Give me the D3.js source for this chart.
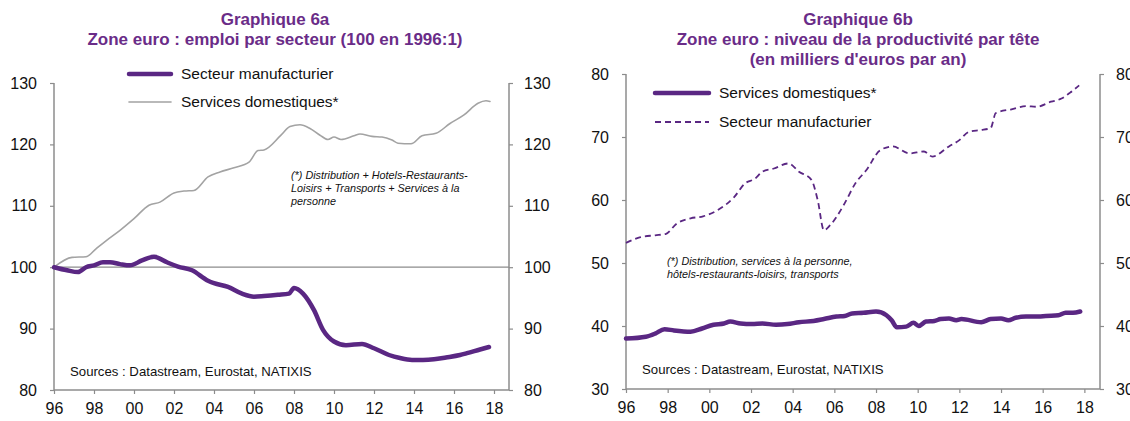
<!DOCTYPE html>
<html>
<head>
<meta charset="utf-8">
<script src="https://cdn.jsdelivr.net/npm/d3@7"></script>
<style>
  body { margin: 0; background: #fff; }
  svg { font-family: "Liberation Sans", Arial, sans-serif; }
</style>
</head>
<body>
<svg id="chart" width="1130" height="421"></svg>
<script>
// values (year as decimal, value)
const yearTicks = [1996, 1998, 2000, 2002, 2004, 2006, 2008, 2010, 2012, 2014, 2016, 2018];

// Graphique 6a : emploi, 100 en 1996:1
const empTicks = [80, 90, 100, 110, 120, 130];
const empManufacturier = [
  [1996.0, 100], [1996.65, 99.5], [1997.2, 99.2], [1997.6, 100], [1998.0, 100.3], [1998.45, 100.8],
  [1998.8, 100.8], [1999.3, 100.5], [1999.8, 100.3], [2000.4, 101.1], [2001.0, 101.7], [2001.65, 100.8],
  [2002.2, 100.1], [2002.9, 99.5], [2003.7, 97.8], [2004.0, 97.4], [2004.7, 96.8], [2005.4, 95.7],
  [2006.0, 95.2], [2006.5, 95.3], [2007.2, 95.5], [2007.75, 95.7], [2008.0, 96.6], [2008.45, 95.7],
  [2009.0, 93.0], [2009.45, 89.8], [2010.0, 87.9], [2010.6, 87.3], [2011.4, 87.5], [2012.0, 86.8],
  [2012.75, 85.7], [2013.3, 85.2], [2013.9, 84.9], [2014.45, 84.9], [2015.0, 85.0], [2015.6, 85.3],
  [2016.3, 85.7], [2016.65, 86.0], [2017.3, 86.6], [2017.75, 87.0]
];
const empServices = [
  [1996.0, 100], [1996.9, 101.6], [1997.6, 101.7], [1998.1, 103], [1998.6, 104.3], [1999.3, 106],
  [2000.0, 107.9], [2000.75, 110.1], [2001.3, 110.6], [2002.0, 112.1], [2002.5, 112.4], [2003.0, 112.5],
  [2003.7, 114.7], [2004.3, 115.5], [2005.0, 116.2], [2005.75, 117.1], [2006.2, 119], [2006.5, 119.1],
  [2007.35, 121.5], [2007.8, 122.9], [2008.3, 123.2], [2008.8, 122.6], [2009.3, 121.5], [2009.7, 120.8],
  [2010.0, 121.2], [2010.35, 120.8], [2011.0, 121.4], [2011.3, 121.7], [2011.9, 121.3], [2012.4, 121.2],
  [2012.9, 120.7], [2013.2, 120.2], [2013.85, 120.1], [2014.4, 121.4], [2015.1, 121.8], [2015.8, 123.4],
  [2016.5, 124.8], [2017.2, 126.7], [2017.6, 127.1], [2017.8, 127.0]
];

// Graphique 6b : productivité par tête, milliers d'euros
const prodTicks = [30, 40, 50, 60, 70, 80];
const prodServices = [
  [1996.0, 38.0], [1996.95, 38.3], [1997.4, 38.8], [1997.85, 39.5], [1998.3, 39.3], [1999.1, 39.1],
  [1999.65, 39.6], [2000.2, 40.2], [2000.7, 40.4], [2001.0, 40.7], [2001.5, 40.4], [2002.05, 40.3],
  [2002.55, 40.4], [2003.2, 40.2], [2003.75, 40.3], [2004.3, 40.6], [2005.0, 40.8], [2005.5, 41.1],
  [2006.1, 41.5], [2006.5, 41.6], [2006.85, 42.0], [2007.4, 42.1], [2008.0, 42.3], [2008.5, 41.7],
  [2008.75, 40.9], [2009.0, 39.8], [2009.45, 39.9], [2009.8, 40.5], [2010.05, 40.0], [2010.4, 40.7],
  [2010.8, 40.8], [2011.1, 41.1], [2011.5, 41.2], [2011.85, 40.9], [2012.1, 41.1], [2013.05, 40.6],
  [2013.5, 41.1], [2014.0, 41.2], [2014.35, 40.9], [2014.7, 41.3], [2015.2, 41.5], [2015.8, 41.5],
  [2016.15, 41.6], [2016.75, 41.7], [2017.1, 42.1], [2017.45, 42.1], [2017.8, 42.3]
];
const prodManufacturier = [
  [1996.0, 53.2], [1996.7, 54.1], [1997.4, 54.4], [1997.9, 54.6], [1998.45, 56.3], [1999.1, 57.1],
  [1999.7, 57.4], [2000.4, 58.4], [2001.2, 60.5], [2001.7, 62.6], [2002.2, 63.4], [2002.55, 64.5],
  [2003.1, 65.0], [2003.8, 65.8], [2004.3, 64.5], [2004.9, 63.2], [2005.2, 60.0], [2005.5, 55.2],
  [2005.8, 56.0], [2006.5, 59.5], [2007.0, 62.6], [2007.55, 64.8], [2008.2, 67.9], [2008.8, 68.5],
  [2009.6, 67.4], [2010.3, 67.7], [2010.7, 66.9], [2011.5, 68.5], [2012.0, 69.5], [2012.45, 70.8],
  [2013.0, 71.1], [2013.5, 71.4], [2013.75, 73.8], [2014.5, 74.4], [2015.2, 74.9], [2015.7, 74.8],
  [2016.4, 75.6], [2016.9, 76.1], [2017.3, 77.0], [2017.75, 78.2]
];

const PURPLE = '#5a2783';
const TITLE_PURPLE = '#6a2c88';
const GREY_LINE = '#a3a3a3';
const AXIS_GREY = '#8c8c8c';

const svg = d3.select('#chart');

function drawPanel(opt) {
  const g = svg.append('g');
  const x = d3.scaleLinear().domain([1996, 2018.75]).range([opt.left, opt.right]);
  const y = d3.scaleLinear().domain(opt.domain).range([opt.bottom, opt.top]);

  // titles
  opt.title.forEach((t, i) => {
    g.append('text')
      .attr('x', opt.titleX).attr('y', opt.titleY[i])
      .attr('text-anchor', 'middle')
      .attr('font-size', 17).attr('font-weight', 'bold')
      .attr('fill', TITLE_PURPLE)
      .text(t);
  });

  // reference line
  if (opt.refLine !== undefined) {
    g.append('line')
      .attr('x1', opt.left).attr('x2', opt.right)
      .attr('y1', y(opt.refLine)).attr('y2', y(opt.refLine))
      .attr('stroke', AXIS_GREY).attr('stroke-width', 1.2);
  }

  // axes
  const yLeft = g.append('g').attr('transform', 'translate(' + opt.left + ',0)')
    .call(d3.axisLeft(y).tickValues(opt.ticks).tickSize(4).tickPadding(opt.padL));
  const yRight = g.append('g').attr('transform', 'translate(' + opt.right + ',0)')
    .call(d3.axisRight(y).tickValues(opt.ticks).tickSize(4).tickPadding(opt.padR));
  const xAxis = g.append('g').attr('transform', 'translate(0,' + opt.bottom + ')')
    .call(d3.axisBottom(x).tickValues(yearTicks).tickSize(4).tickPadding(9)
      .tickFormat((d) => String(d).slice(2)));

  [yLeft, yRight, xAxis].forEach((a) => {
    a.select('.domain').attr('stroke', AXIS_GREY).attr('stroke-width', 1.5);
    a.selectAll('.tick line').attr('stroke', AXIS_GREY).attr('stroke-width', 1.2);
    a.selectAll('.tick text').attr('font-size', 16).attr('fill', '#111')
      .attr('font-family', '"Liberation Sans", Arial, sans-serif');
  });
  // plain domain lines, no end stubs
  yLeft.select('.domain').attr('d', 'M0,' + opt.top + 'V' + opt.bottom);
  yRight.select('.domain').attr('d', 'M0,' + opt.top + 'V' + opt.bottom);
  xAxis.select('.domain').attr('d', 'M' + opt.left + ',0H' + opt.right);

  const line = d3.line().x((d) => x(d[0])).y((d) => y(d[1])).curve(d3.curveMonotoneX);

  opt.series.forEach((s) => {
    g.append('path')
      .datum(s.data)
      .attr('d', line)
      .attr('fill', 'none')
      .attr('stroke', s.color)
      .attr('stroke-width', s.width)
      .attr('stroke-dasharray', s.dash || null)
      .attr('stroke-linejoin', 'round')
      .attr('stroke-linecap', s.dash ? 'butt' : 'round');
  });

  // legend
  opt.legend.forEach((l, i) => {
    const ly = opt.legendY[i];
    g.append('line')
      .attr('x1', opt.legendX).attr('x2', opt.legendX + opt.legendLen)
      .attr('y1', ly).attr('y2', ly)
      .attr('stroke', l.color).attr('stroke-width', l.width)
      .attr('stroke-dasharray', l.dash || null)
      .attr('stroke-linecap', l.dash ? 'butt' : 'round');
    g.append('text')
      .attr('x', opt.legendX + opt.legendLen + 10).attr('y', ly + 5)
      .attr('font-size', 15.5).attr('fill', '#111')
      .text(l.label);
  });

  // note
  opt.note.forEach((t, i) => {
    g.append('text')
      .attr('x', opt.noteX).attr('y', opt.noteY + i * 13)
      .attr('font-size', 10.8).attr('font-style', 'italic').attr('fill', '#111')
      .text(t);
  });

  g.append('text')
    .attr('x', opt.left + 16).attr('y', opt.sourceY)
    .attr('font-size', 13.2).attr('fill', '#111')
    .text('Sources : Datastream, Eurostat, NATIXIS');
}

drawPanel({
  left: 54, right: 509, top: 83, bottom: 390,
  domain: [80, 130], ticks: empTicks, padL: 13, padR: 11, refLine: 100,
  title: ['Graphique 6a', 'Zone euro : emploi par secteur (100 en 1996:1)'],
  titleX: 275, titleY: [25, 45],
  series: [
    { data: empServices, color: GREY_LINE, width: 1.6 },
    { data: empManufacturier, color: PURPLE, width: 4.5 }
  ],
  legend: [
    { label: 'Secteur manufacturier', color: PURPLE, width: 4.5 },
    { label: 'Services domestiques*', color: GREY_LINE, width: 1.6 }
  ],
  legendX: 129, legendLen: 42, legendY: [74, 102],
  note: ['(*) Distribution + Hotels-Restaurants-', 'Loisirs + Transports + Services à la', 'personne'],
  noteX: 291, noteY: 179,
  sourceY: 376
});

drawPanel({
  left: 626, right: 1100, top: 74, bottom: 389,
  domain: [30, 80], ticks: prodTicks, padL: 13, padR: 12,
  title: ['Graphique 6b', 'Zone euro : niveau de la productivité par tête', '(en milliers d\'euros par an)'],
  titleX: 858, titleY: [25, 45, 65],
  series: [
    { data: prodManufacturier, color: PURPLE, width: 1.8, dash: '6,4' },
    { data: prodServices, color: PURPLE, width: 4.5 }
  ],
  legend: [
    { label: 'Services domestiques*', color: PURPLE, width: 4.5 },
    { label: 'Secteur manufacturier', color: PURPLE, width: 1.8, dash: '6,4' }
  ],
  legendX: 655, legendLen: 54, legendY: [93, 122],
  note: ['(*) Distribution, services à la personne,', 'hôtels-restaurants-loisirs, transports'],
  noteX: 667, noteY: 265,
  sourceY: 374
});
</script>
</body>
</html>
